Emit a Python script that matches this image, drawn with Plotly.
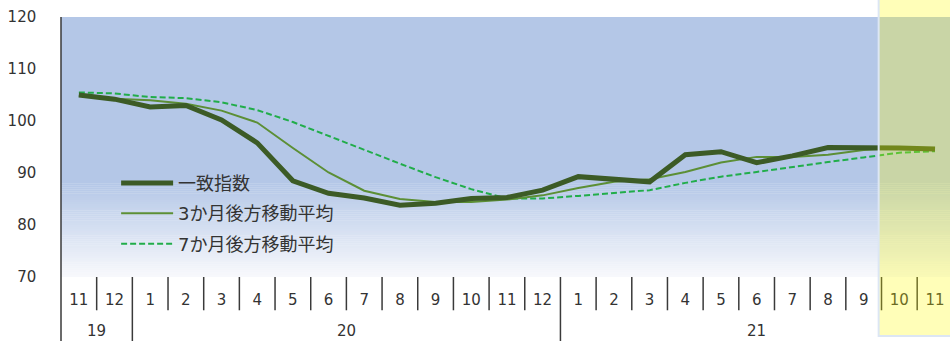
import plotly.graph_objects as go

# ---- data ----
years = ["19", "19"] + ["20"] * 12 + ["21"] * 11
months = [11, 12, 1, 2, 3, 4, 5, 6, 7, 8, 9, 10, 11, 12, 1, 2, 3, 4, 5, 6, 7, 8, 9, 10, 11]
month_labels = [str(m) for m in months]
coincident = [105.0, 104.2, 102.7, 103.0, 100.2, 95.8, 88.5, 86.1, 85.2, 83.8, 84.2, 85.1, 85.3,
              86.7, 89.3, 88.8, 88.3, 93.5, 94.1, 92.0, 93.3, 94.9, 94.9, 94.8, 94.6]
ma3 = [104.9, 104.3, 104.0, 103.3, 102.0, 99.7, 94.8, 90.1, 86.6, 85.0, 84.4, 84.4, 84.9,
       85.7, 87.1, 88.3, 88.8, 90.2, 92.0, 93.1, 93.1, 93.5, 94.4, 94.8, 94.8]
ma7 = [105.5, 105.3, 104.6, 104.4, 103.6, 102.1, 99.8, 97.1, 94.5, 91.8, 89.2, 86.9, 85.1,
       85.1, 85.6, 86.2, 86.7, 88.1, 89.3, 90.2, 91.2, 92.1, 93.0, 93.9, 94.2]
names = ["一致指数", "3か月後方移動平均", "7か月後方移動平均"]
y_ticks = [70, 80, 90, 100, 110, 120]
highlight_start = 23  # index of first highlighted month (2021-10)

x = list(range(len(months)))
FONT = "DejaVu Sans, Noto Sans CJK JP, sans-serif"
TXT = "#333333"

fig = go.Figure()
fig.add_trace(go.Scatter(x=x, y=coincident, name=names[0], mode="lines", legendgroup="a",
                         line=dict(color="#3c5b26", width=5), zorder=3))
fig.add_trace(go.Scatter(x=x, y=ma3, name=names[1], mode="lines", legendgroup="b",
                         line=dict(color="#5c8f35", width=2), zorder=2))
fig.add_trace(go.Scatter(x=x, y=ma7, name=names[2], mode="lines", legendgroup="c",
                         line=dict(color="#21ad4a", width=2, dash="6px,3px"), zorder=1))

shapes = []
# plot-area background: solid blue then gradient to white
top = (180, 199, 231)
bot = (248, 249, 252)
g0, g1 = 70.0, 88.0
shapes.append(dict(type="rect", xref="paper", yref="y", x0=0, x1=1, y0=g1, y1=120,
                   fillcolor="rgb(%d,%d,%d)" % top, line=dict(width=0), layer="below"))
N = 45
for k in range(N):
    ya = g0 + (g1 - g0) * k / N
    yb = g0 + (g1 - g0) * (k + 1) / N
    f = 1 - (k + 0.5) / N
    c = tuple(round(top[j] + (bot[j] - top[j]) * f) for j in range(3))
    shapes.append(dict(type="rect", xref="paper", yref="y", x0=0, x1=1, y0=ya, y1=yb + 0.05,
                       fillcolor="rgb(%d,%d,%d)" % c, line=dict(width=0), layer="below"))

# left axis line extended down through the category area
shapes.append(dict(type="line", xref="paper", yref="paper", x0=0, x1=0, y0=1, y1=-0.25,
                   line=dict(color="#3a3a3a", width=1.5)))
# category dividers
for i in range(1, len(months)):
    long = years[i] != years[i - 1]
    shapes.append(dict(type="line", xref="x", yref="paper", x0=i - 0.5, x1=i - 0.5,
                       y0=0, y1=-0.25 if long else -0.128,
                       line=dict(color="#3a3a3a", width=1.5)))
# forecast highlight
shapes.append(dict(type="rect", xref="x", yref="paper", x0=highlight_start - 0.58, x1=26,
                   y0=-0.227, y1=1.1, fillcolor="rgba(255,252,0,0.28)",
                   line=dict(color="#dce6f4", width=2), layer="above"))

# year labels centred on their groups
annotations = []
for yr in dict.fromkeys(years):
    idx = [i for i, v in enumerate(years) if v == yr]
    annotations.append(dict(x=sum(idx) / len(idx), y=-0.207, xref="x", yref="paper",
                            text=yr, showarrow=False, yanchor="middle",
                            font=dict(family=FONT, size=15, color=TXT)))

fig.update_layout(
    width=950, height=341,
    margin=dict(l=61, r=0, t=17, b=64),
    paper_bgcolor="white", plot_bgcolor="white",
    font=dict(family=FONT, size=15, color=TXT),
    showlegend=True,
    legend=dict(x=0.062, y=0.432, xanchor="left", yanchor="top", bgcolor="rgba(0,0,0,0)",
                font=dict(family=FONT, size=18, color=TXT), tracegroupgap=4,
                traceorder="grouped", itemwidth=52),
    shapes=shapes, annotations=annotations,
    xaxis=dict(range=[-0.5, 24.42], tickmode="array", tickvals=x, ticktext=month_labels,
               showgrid=False, zeroline=False, showline=True, linecolor="#3a3a3a",
               linewidth=2, ticks="", ticklabelstandoff=8, tickfont=dict(size=15, color=TXT)),
    yaxis=dict(range=[70, 120], tickmode="array", tickvals=y_ticks, showgrid=False,
               zeroline=False, showline=True, linecolor="#3a3a3a", linewidth=1.5,
               ticks="", ticklabelstandoff=20, tickfont=dict(size=15, color=TXT)),
)

fig.write_html("out.html")
